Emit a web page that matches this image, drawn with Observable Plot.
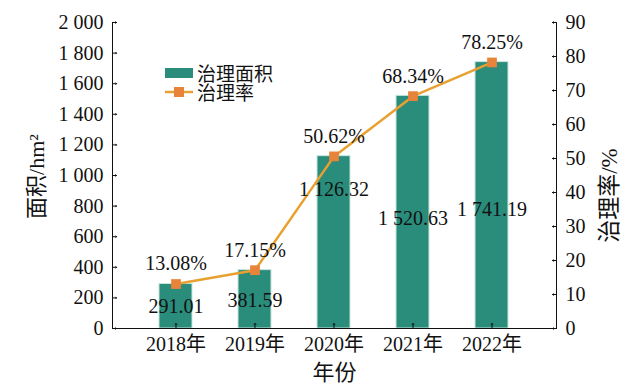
<!DOCTYPE html>
<html><head><meta charset="utf-8">
<script src="https://cdn.jsdelivr.net/npm/d3@7"></script>
<script src="https://cdn.jsdelivr.net/npm/@observablehq/plot@0.6"></script>
<style>
body{margin:0;background:#fff;}
#wrap{position:relative;width:633px;height:389px;font-family:"Liberation Serif","Noto Sans CJK SC",serif;}
#legend{position:absolute;left:165px;top:63px;font-size:19px;line-height:19px;color:#111;font-family:"Noto Sans CJK SC",sans-serif;}
#legend div{display:flex;align-items:center;height:19px;line-height:19px;}
#legend span{display:inline-block;height:19px;line-height:19px;overflow:visible;}
#legend svg{margin-right:4px;}
</style></head>
<body><div id="wrap"><div id="legend"></div></div>
<script>
const years = ["2018年","2019年","2020年","2021年","2022年"];
const areas = [291.01, 381.59, 1126.32, 1520.63, 1741.19];
const rates = [13.08, 17.15, 50.62, 68.34, 78.25];
const areaLabels = ["291.01","381.59","1 126.32","1 520.63","1 741.19"];
const rateLabels = ["13.08%","17.15%","50.62%","68.34%","78.25%"];
const areaLabelAt = [140, 185, 905, 720, 775];
const leftTicks = [0,200,400,600,800,1000,1200,1400,1600,1800,2000];
const rightTicks = [0,10,20,30,40,50,60,70,80,90];

const k = 2000/90;
const data = years.map((y,i)=>({year:y, area:areas[i], rate:rates[i], r:rates[i]*k, al:areaLabels[i], rl:rateLabels[i], la:areaLabelAt[i]}));
const fmt = d => d >= 1000 ? String(d).replace(/^(\d)(\d{3})$/,"$1 $2") : String(d);
const barColor = "#2a8c7b", lineColor = "#e8a030", markColor = "#e8843a";
const serif = '"Liberation Serif","Noto Sans CJK SC",serif';

const chart = Plot.plot({
  width: 633, height: 389,
  marginLeft: 112, marginRight: 77, marginTop: 22, marginBottom: 61,
  style: {fontFamily: serif, fontSize: "20px", color: "#111", background: "transparent"},
  x: {domain: years, padding: 0.58, label: null},
  y: {domain: [0, 2000], label: null},
  marks: [
    Plot.barY(data, {x: "year", y: "area", fill: barColor, stroke: "#c8e6dc", strokeWidth: 1}),
    Plot.line(data, {x: "year", y: "r", stroke: lineColor, strokeWidth: 2.5}),
    Plot.dot(data, {x: "year", y: "r", symbol: "square", r: 5.5, fill: markColor, stroke: "none"}),
    Plot.text(data, {x: "year", y: "r", text: "rl", dy: -20, fontSize: 20, fill: "#111", fontFamily: serif}),
    Plot.text(data, {x: "year", y: "la", text: "al", fontSize: 20, fill: "#111", fontFamily: serif}),
    Plot.frame({anchor: "left", stroke: "#111"}),
    Plot.frame({anchor: "right", stroke: "#111"}),
    Plot.frame({anchor: "bottom", stroke: "#111"}),
    Plot.axisY(leftTicks, {anchor: "left", tickSize: 0, tickPadding: 9, tickFormat: fmt, fontSize: 20, fontFamily: serif, label: null}),
    Plot.vector(leftTicks, {y: d => d, frameAnchor: "left", rotate: 90, length: 4, anchor: "start", stroke: "#111", strokeWidth: 1}),
    Plot.axisY(rightTicks.map(v => v*k), {anchor: "right", tickSize: 0, tickPadding: 9, tickFormat: d => Math.round(d/k), fontSize: 20, fontFamily: serif, label: null}),
    Plot.vector(rightTicks, {y: d => d*k, frameAnchor: "right", rotate: -90, length: 4, anchor: "start", stroke: "#111", strokeWidth: 1}),
    Plot.axisX({tickSize: 0, tickPadding: 8, fontSize: 20, label: null, fontFamily: serif}),
    Plot.vector(years, {x: d => d, frameAnchor: "bottom", rotate: 0, length: 5, anchor: "start", stroke: "#111", strokeWidth: 1}),
    Plot.text(["年份"], {frameAnchor: "bottom", lineAnchor: "middle", textAnchor: "middle", dy: 44, fontSize: 22, fill: "#111", fontFamily: '"Noto Sans CJK SC",sans-serif'}),
    Plot.text(["面积/hm²"], {frameAnchor: "left", textAnchor: "middle", lineAnchor: "middle", dx: -76, dy: 1, rotate: -90, fontSize: 22, fill: "#111", fontFamily: serif}),
    Plot.text(["治理率/%"], {frameAnchor: "right", textAnchor: "middle", lineAnchor: "middle", dx: 53, dy: 20, rotate: -90, fontSize: 23, fill: "#111", fontFamily: serif})
  ]
});
document.getElementById("wrap").prepend(chart);

const legend = document.getElementById("legend");
legend.innerHTML =
  `<div><svg width="28" height="12"><rect x="0" y="1" width="28" height="10" fill="${barColor}"/></svg><span>治理面积</span></div>` +
  `<div><svg width="28" height="12"><line x1="0" y1="6" x2="28" y2="6" stroke="${lineColor}" stroke-width="2.5"/><rect x="9" y="1" width="10" height="10" fill="${markColor}"/></svg><span>治理率</span></div>`;
</script></body></html>
